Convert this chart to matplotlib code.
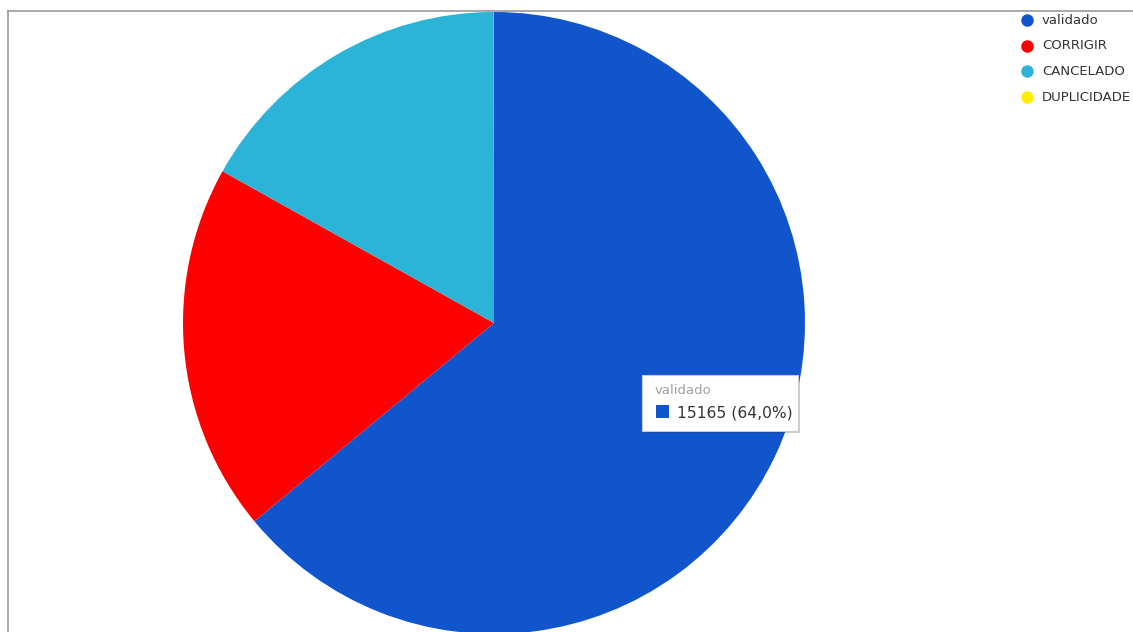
import matplotlib.pyplot as plt
from matplotlib.patches import Rectangle
from matplotlib.lines import Line2D

W, H = 1133, 632

labels = ["validado", "CORRIGIR", "CANCELADO", "DUPLICIDADE"]
values = [15165, 4530, 4000, 2]
colors = ["#1155cc", "#ff0000", "#2bb3d8", "#ffee00"]

tip_label = "validado"
tip_text = "15165 (64,0%)"

fig = plt.figure(figsize=(W / 100, H / 100), dpi=100, facecolor="white")


def px(x, y):
    # pixel coords (top-left origin) -> figure fraction
    return x / W, 1 - y / H


# frame lines (top and left)
fig.add_artist(Line2D([8 / W, 1], [1 - 11 / H] * 2, color="#9a9a9a", lw=1.2))
fig.add_artist(Line2D([8 / W] * 2, [0, 1 - 11 / H], color="#9a9a9a", lw=1.2))

cx, cy, r = 494, 323, 311
ax = fig.add_axes([(cx - r) / W, (H - cy - r) / H, 2 * r / W, 2 * r / H])
ax.pie(values, colors=colors, startangle=90, counterclock=False,
       wedgeprops=dict(linewidth=0))
ax.set_aspect("equal")
ax.set_xlim(-1, 1)
ax.set_ylim(-1, 1)
ax.axis("off")

# legend
for i, (lab, col) in enumerate(zip(labels, colors)):
    y = 20 + i * 25.7
    mx, my = px(1027, y)
    fig.add_artist(Line2D([mx], [my], marker="o", markersize=9, color=col,
                          markeredgewidth=0, linestyle="none"))
    tx, ty = px(1042, y)
    fig.text(tx, ty, lab, fontsize=9.5, color="#333333", va="center", ha="left",
             family="DejaVu Sans")

# tooltip
x0, y0, x1, y1 = 642, 375, 798, 431
sx, sy = px(x0 + 2, y1 + 2)
fig.add_artist(Rectangle((sx, sy), (x1 - x0) / W, (y1 - y0) / H,
                         facecolor="#00000030", edgecolor="none"))
bx, by = px(x0, y1)
fig.add_artist(Rectangle((bx, by), (x1 - x0) / W, (y1 - y0) / H,
                         facecolor="white", edgecolor="#cccccc", lw=0.8))
lx, ly = px(655, 391)
fig.text(lx, ly, tip_label, fontsize=9.5, color="#a0a0a0", va="center",
         ha="left", family="DejaVu Sans")
qx, qy = px(656, 418)
fig.add_artist(Rectangle((qx, qy), 13 / W, 13 / H, facecolor=colors[0],
                         edgecolor="none"))
vx, vy = px(677, 413)
fig.text(vx, vy, tip_text, fontsize=11.2, color="#333333", va="center",
         ha="left", family="DejaVu Sans")

fig.savefig("out.png", dpi=100, facecolor="white")
